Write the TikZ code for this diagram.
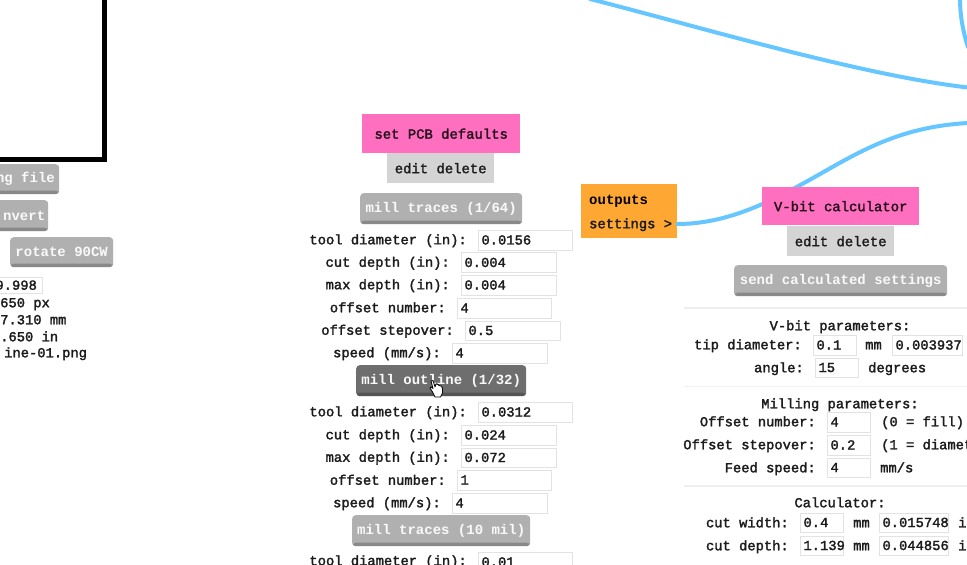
\documentclass[tikz,border=0pt]{standalone}
\usepackage{fontspec}
\setmainfont{Liberation Mono}
\newfontfamily\semib[FakeBold=2]{Liberation Mono}
\newfontfamily\btnf{Liberation Mono Bold}
\newfontfamily\headf{Liberation Mono Bold}
\definecolor{wire}{HTML}{66C6FF}
\definecolor{pinkn}{HTML}{FF6FBF}
\definecolor{orangen}{HTML}{FFA733}
\definecolor{editg}{HTML}{D4D4D4}
\definecolor{btng}{HTML}{B0B0B0}
\definecolor{btnd}{HTML}{6E6E6E}
\definecolor{inpb}{HTML}{E2E2E2}
\definecolor{inkc}{HTML}{1C1C1C}
\definecolor{rulec}{HTML}{EFEFEF}
\tikzset{
  txt/.style={inner sep=0pt,text=inkc,font=\fontsize{13.8bp}{16bp}\selectfont\semib,text height=10bp,text depth=1.5bp},
  lbl/.style={txt,anchor=east},
  lblw/.style={txt,anchor=west},
  lblc/.style={txt,anchor=center},
  inpbox/.style={draw=inpb,line width=1bp,fill=white,anchor=north west,inner xsep=3bp,inner ysep=0pt,align=left,text=inkc,font=\fontsize{13.8bp}{16bp}\selectfont\semib,text height=10bp,text depth=1.5bp},
  pinkbox/.style={fill=pinkn,draw=none,inner sep=0pt,text=black!85!pinkn,font=\fontsize{13.9bp}{16bp}\selectfont\semib},
  editbox/.style={fill=editg,draw=none,inner sep=0pt,text=inkc,font=\fontsize{13.9bp}{16bp}\selectfont\semib},
  btnbox/.style={fill=btng,draw=none,rounded corners=3.5bp,inner sep=0pt,text=white!92!btng,font=\fontsize{14bp}{16bp}\selectfont\btnf,
    path picture={\fill[black,opacity=.22] ([yshift=3.5bp]path picture bounding box.south west) rectangle (path picture bounding box.south east);}},
  btndark/.style={btnbox,fill=btnd},
  wireline/.style={draw=wire,line width=4bp,line cap=round},
  framel/.style={draw=black,line width=5bp},
  rulel/.style={draw=rulec,line width=1.2bp},
  orangebox/.style={fill=orangen,draw=none,inner sep=0pt},
}
\newcommand{\boxat}[7]{% style name x y w h text
  \node[#1,anchor=north west,minimum width=#5 bp,minimum height=#6 bp] (#2) at (#3,#4) {#7};}
\newcommand{\inp}[6]{% name x y w h text
  \pgfmathsetmacro\tw{#4-6.5}
  \node[inpbox,text width=\tw bp,minimum height=#5 bp] (#1) at (#2,#3) {#6};}
\begin{document}
\begin{tikzpicture}[x=1bp,y=-1bp]
\useasboundingbox (0,0) rectangle (967,565);
\fill[white] (0,0) rectangle (967,565);
% free wire ends
\coordinate (wa) at (590,-1);
\coordinate (wb) at (968,87.5);
\coordinate (wc) at (968,123);
\coordinate (wd) at (960,-1);
\coordinate (we) at (968,47);
\coordinate (wm) at (775,198);
% orange block
\node[orangebox,anchor=north west,minimum width=96bp,minimum height=54bp] (outputs) at (581,184) {};
\node[lblw,font=\fontsize{14bp}{16bp}\selectfont\headf,text=black] (outt) at (589,200) {outputs};
\node[lblw] (sett) at (589,224) {settings >};
% wires
\draw[wireline] (outputs.east |- sett.center) .. controls (712,224) and (745,213) .. (wm)
  .. controls (840,167) and (880,128) .. (wc);
\draw[wireline] (wa) .. controls (700,27) and (860,75) .. (wb);
\draw[wireline] (wd) .. controls (960,15) and (963,32) .. (we);
% left fragment
\coordinate (fa) at (104.5,-5);
\coordinate (fb) at (-5,160);
\coordinate (fc) at (104.5,160);
\draw[framel] (fa) -- (fc) -- (fb);
\boxat{btnbox}{bfile}{-40}{164}{99}{30}{\hspace*{31.5bp}ng file}
\boxat{btnbox}{binvert}{-40}{200}{88}{31}{\hspace*{40bp}nvert}
\boxat{btnbox}{brot}{10}{237}{103}{30}{rotate 90CW}
\inp{i998}{-10}{277}{52}{16}{\hspace*{2bp}9.998}
\node[lblw] (t1) at (0,303) {650 px};
\node[lblw] (t2) at (0,320) {7.310 mm};
\node[lblw] (t3) at (0,337) {.650 in};
\node[lblw] (t4) at (4,353) {ine-01.png};
% PCB column
\boxat{pinkbox}{pcb}{362}{114}{158}{39}{set PCB defaults}
\boxat{editbox}{ed1}{387}{153}{107}{30}{edit delete}
\boxat{btnbox}{b1}{360}{193}{162}{31}{mill traces (1/64)}
\node[lbl] (l1) at (467,240) {tool diameter (in):};
\inp{i1}{478}{230}{94}{19.5}{0.0156}
\node[lbl] (l2) at (450,262.5) {cut depth (in):};
\inp{i2}{461}{252.5}{95}{19.5}{0.004}
\node[lbl] (l3) at (450,285) {max depth (in):};
\inp{i3}{461}{275}{95}{19.5}{0.004}
\node[lbl] (l4) at (446,308) {offset number:};
\inp{i4}{457}{298}{94}{19.5}{4}
\node[lbl] (l5) at (454,330.5) {offset stepover:};
\inp{i5}{465}{320.5}{95}{19.5}{0.5}
\node[lbl] (l6) at (441,353) {speed (mm/s):};
\inp{i6}{452}{343}{95}{19.5}{4}
\boxat{btndark}{b2}{356}{365}{170}{31}{mill outline (1/32)}
\node[lbl] (l7) at (467,412) {tool diameter (in):};
\inp{i7}{478}{402}{94}{19.5}{0.0312}
\node[lbl] (l8) at (450,435) {cut depth (in):};
\inp{i8}{461}{425}{95}{19.5}{0.024}
\node[lbl] (l9) at (450,457.5) {max depth (in):};
\inp{i9}{461}{447.5}{95}{19.5}{0.072}
\node[lbl] (l10) at (446,480.5) {offset number:};
\inp{i10}{457}{470}{94}{19.5}{1}
\node[lbl] (l11) at (441,503) {speed (mm/s):};
\inp{i11}{452}{493}{95}{19.5}{4}
\boxat{btnbox}{b3}{352}{515}{178}{31}{mill traces (10 mil)}
\node[lbl] (l12) at (467,561) {tool diameter (in):};
\inp{i12}{478}{552}{94}{19.5}{0.01}
% cursor
\path[draw=black,fill=white,line width=.8bp,line join=round]
  (431,381) -- (433,380.5) -- (435,387) -- (436,384) -- (438,384.5) -- (439,385.5) -- (441,386) -- (442.5,388) -- (442.5,393) -- (440.5,397) -- (435,397) -- (432.5,392) -- (430,388) -- (431,387) -- (433,388.5) -- cycle;
% V-bit column
\boxat{pinkbox}{vb}{762}{187}{157}{38}{V-bit calculator}
\boxat{editbox}{ed2}{787}{226}{107}{30}{edit delete}
\boxat{btnbox}{b4}{734}{265}{213}{31}{send calculated settings}
\coordinate (r1a) at (684,308); \coordinate (r1b) at (968,308);
\coordinate (r2a) at (684,386.5); \coordinate (r2b) at (968,386.5);
\coordinate (r3a) at (684,486); \coordinate (r3b) at (968,486);
\draw[rulel] (r1a) -- (r1b);
\draw[rulel] (r2a) -- (r2b);
\draw[rulel] (r3a) -- (r3b);
\node[lblc] (h1) at (840,326) {V-bit parameters:};
\node[lbl] (m1) at (802,345) {tip diameter:};
\inp{n1}{813}{335}{43}{19.5}{0.1}
\node[lblw] (u1) at (865,345) {mm};
\inp{n2}{892}{335}{70}{19.5}{0.003937}
\node[lbl] (m2) at (804,368) {angle:};
\inp{n3}{815}{357.5}{43}{19.5}{15}
\node[lblw] (u2) at (868,368) {degrees};
\node[lblc] (h2) at (840,404) {Milling parameters:};
\node[lbl] (m3) at (816,422) {Offset number:};
\inp{n4}{827}{412}{43}{19.5}{4}
\node[lblw] (u3) at (881,422) {(0 = fill)};
\node[lbl] (m4) at (816,445) {Offset stepover:};
\inp{n5}{827}{435}{43}{19.5}{0.2}
\node[lblw] (u4) at (881,445) {(1 = diamet};
\node[lbl] (m5) at (816,468) {Feed speed:};
\inp{n6}{827}{457.5}{43}{19.5}{4}
\node[lblw] (u5) at (880,468) {mm/s};
\node[lblc] (h3) at (840,503) {Calculator:};
\node[lbl] (m6) at (789,523) {cut width:};
\inp{n7}{800}{512.5}{43}{19.5}{0.4}
\node[lblw] (u6) at (853,523) {mm};
\inp{n8}{879}{512.5}{69}{19.5}{0.015748}
\node[lblw] (u7) at (958,523) {in};
\node[lbl] (m7) at (789,546) {cut depth:};
\inp{n9}{800}{535.5}{43}{19.5}{1.139}
\node[lblw] (u8) at (853,546) {mm};
\inp{n10}{879}{535.5}{69}{19.5}{0.044856}
\node[lblw] (u9) at (958,546) {in};
\end{tikzpicture}
\end{document}
